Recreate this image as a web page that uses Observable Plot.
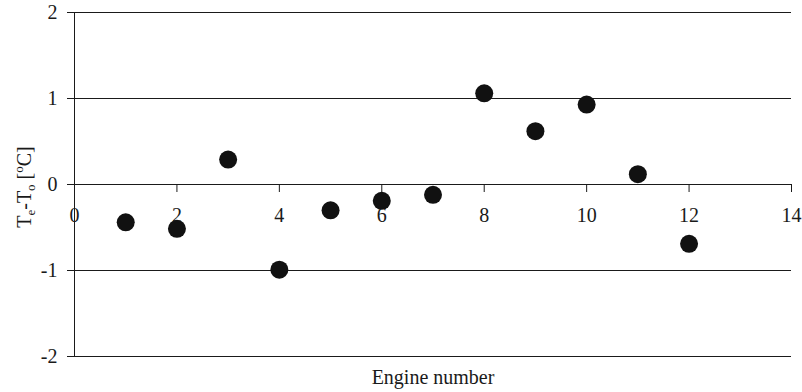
<!DOCTYPE html>
<html>
<head>
<meta charset="utf-8">
<script src="https://cdn.jsdelivr.net/npm/d3@7"></script>
<script src="https://cdn.jsdelivr.net/npm/@observablehq/plot@0.6"></script>
<style>
  html, body { margin: 0; padding: 0; background: #fff; }
  svg text { font-family: "Liberation Serif", "Times New Roman", serif !important; font-variant: normal !important; }
</style>
</head>
<body>
<div id="chart"></div>
<script>
const engines = [1, 2, 3, 4, 5, 6, 7, 8, 9, 10, 11, 12];
const deltaT = [-0.44, -0.515, 0.29, -0.99, -0.30, -0.19, -0.12, 1.06, 0.62, 0.93, 0.12, -0.69];
const xTicks = [0, 2, 4, 6, 8, 10, 12, 14];
const yTicks = [-2, -1, 0, 1, 2];
const xLabel = "Engine number";

const data = engines.map((e, i) => ({engine: e, dt: deltaT[i]}));

const ink = "#1a1a1a";
const font = "Liberation Serif";
const fmt = d => (d < 0 ? "-" + Math.abs(d) : String(d));

const chart = Plot.plot({
  width: 802,
  height: 392,
  marginLeft: 74,
  marginRight: 11,
  marginTop: 12,
  marginBottom: 36,
  x: {domain: [0, 14], axis: null},
  y: {domain: [-2, 2], axis: null},
  style: {fontFamily: font, fontSize: "20px", background: "#fff", color: ink},
  marks: [
    Plot.gridY(yTicks, {stroke: ink, strokeOpacity: 1, strokeWidth: 1}),
    Plot.axisY(yTicks, {tickSize: 7, tickPadding: 10, label: null, fontSize: 20, stroke: ink, tickFormat: fmt}),
    Plot.ruleX([0], {stroke: ink}),
    Plot.ruleX(xTicks, {x: d => d, y1: 0, y2: 0, insetBottom: -8, stroke: ink}),
    Plot.text(xTicks, {x: d => d, y: 0, dy: 31, text: d => String(d), fontSize: 20, fill: ink}),
    Plot.text([xLabel], {frameAnchor: "bottom", dy: 27, text: d => d, fontSize: 20, fill: ink}),
    Plot.dot(data, {x: "engine", y: "dt", r: 9, fill: "#111", stroke: "none"})
  ]
});

document.getElementById("chart").appendChild(chart);

// Y-axis label with sub/superscripts
const svg = d3.select(chart);
const yl = svg.append("text")
  .attr("transform", "translate(31,187) rotate(-90)")
  .attr("text-anchor", "middle")
  .attr("fill", ink)
  .style("font-size", "20px");
yl.append("tspan").text("T");
yl.append("tspan").attr("dy", 4).style("font-size", "13px").text("e");
yl.append("tspan").attr("dy", -4).text("-T");
yl.append("tspan").attr("dy", 4).style("font-size", "13px").text("o");
yl.append("tspan").attr("dy", -4).text(" [");
yl.append("tspan").attr("dy", -8).style("font-size", "13px").text("o");
yl.append("tspan").attr("dy", 8).text("C]");
</script>
</body>
</html>
